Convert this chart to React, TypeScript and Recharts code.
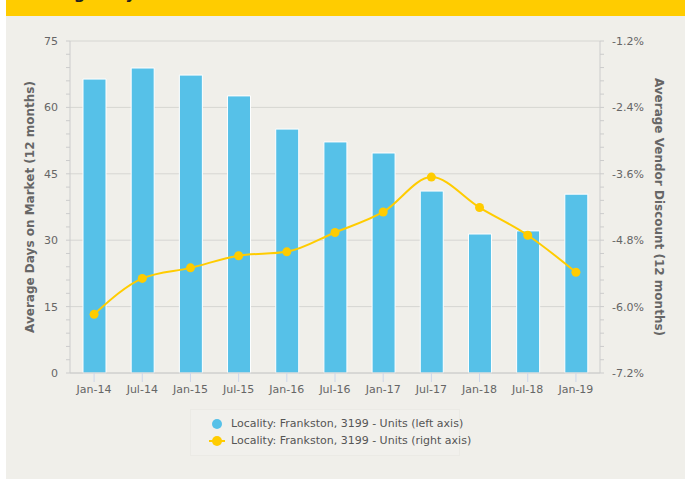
import React from "react";
import {
  ComposedChart,
  Bar,
  Line,
  XAxis,
  YAxis,
  CartesianGrid,
  Label,
} from "recharts";

const months = [
  "Jan-14",
  "Jul-14",
  "Jan-15",
  "Jul-15",
  "Jan-16",
  "Jul-16",
  "Jan-17",
  "Jul-17",
  "Jan-18",
  "Jul-18",
  "Jan-19",
];
const daysOnMarket = [66.4, 68.9, 67.3, 62.6, 55.1, 52.2, 49.7, 41.1, 31.4, 32.1, 40.4];
const vendorDiscount = [-6.14, -5.49, -5.3, -5.08, -5.01, -4.66, -4.29, -3.66, -4.21, -4.71, -5.38];

const leftTicks = [0, 15, 30, 45, 60, 75];
const rightTicks = [-7.2, -6.0, -4.8, -3.6, -2.4, -1.2];

const legendLabels = [
  "Locality: Frankston, 3199 - Units (left axis)",
  "Locality: Frankston, 3199 - Units (right axis)",
];

const BLUE = "#56c1e8";
const YELLOW = "#ffcc00";
const FONT = "'DejaVu Sans', sans-serif";

// split each major interval into 5 for the minor tick marks
function withMinor(majors: number[]) {
  const out: number[] = [];
  for (let i = 0; i < majors.length - 1; i++) {
    const step = (majors[i + 1] - majors[i]) / 5;
    for (let k = 0; k < 5; k++) out.push(+(majors[i] + step * k).toFixed(4));
  }
  out.push(majors[majors.length - 1]);
  return out;
}

const isMajor = (v: number, majors: number[]) =>
  majors.some((m) => Math.abs(m - v) < 1e-6);

const rows = months.map((m, i) => ({
  month: m,
  days: daysOnMarket[i],
  discount: vendorDiscount[i],
}));

function YTick(props: any) {
  const { x, y, payload, textAnchor, majors, fmt } = props;
  if (!isMajor(payload.value, majors)) return null;
  return (
    <text
      x={x}
      y={y}
      dy="0.355em"
      textAnchor={textAnchor}
      fontSize={11}
      fontFamily={FONT}
      fill="#666"
    >
      {fmt(payload.value)}
    </text>
  );
}

function AxisTitle({ viewBox, text, side }: any) {
  const cy = viewBox.y + viewBox.height / 2;
  const cx = side === "left" ? viewBox.x + 24 : viewBox.x + viewBox.width - 26;
  const angle = side === "left" ? -90 : 90;
  return (
    <text
      x={cx}
      y={cy}
      textAnchor="middle"
      dominantBaseline="central"
      transform={`rotate(${angle} ${cx} ${cy})`}
      fontSize={12}
      fontWeight="bold"
      fontFamily={FONT}
      fill="#666"
    >
      {text}
    </text>
  );
}

export default function App() {
  return (
    <div
      style={{
        position: "absolute",
        left: 0,
        top: 0,
        width: 685,
        height: 479,
        background: "#fff",
        overflow: "hidden",
        fontFamily: FONT,
      }}
    >
      <div
        style={{
          position: "absolute",
          left: 6,
          top: 0,
          width: 679,
          height: 479,
          background: "#f0efea",
        }}
      />
      <div
        style={{
          position: "absolute",
          left: 6,
          top: 0,
          width: 679,
          height: 16,
          background: YELLOW,
          overflow: "hidden",
        }}
      >
        <div
          style={{
            position: "absolute",
            left: 16,
            top: -14,
            fontSize: 16,
            lineHeight: "16px",
            fontWeight: "bold",
            color: "#222",
            whiteSpace: "nowrap",
          }}
        >
          Average Days on Market vs Vendor Discount
        </div>
      </div>

      <div style={{ position: "absolute", left: 6, top: 16 }}>
        <ComposedChart
          width={679}
          height={463}
          data={rows}
          margin={{ top: 25, right: 0, left: 0, bottom: 76 }}
        >
          <CartesianGrid
            yAxisId="left"
            vertical={false}
            horizontalValues={leftTicks}
            stroke="#d6d6d2"
          />
          <XAxis
            dataKey="month"
            height={30}
            tickSize={9}
            tickMargin={3}
            tickLine={{ stroke: "#ccd6eb" }}
            axisLine={{ stroke: "#ccc" }}
            tick={{ fontSize: 11, fontFamily: FONT, fill: "#666" }}
            interval={0}
          />
          <YAxis
            yAxisId="left"
            width={64}
            domain={[0, 75]}
            ticks={withMinor(leftTicks)}
            interval={0}
            tickSize={4}
            tickMargin={8}
            tickLine={{ stroke: "#ccc" }}
            axisLine={{ stroke: "#ccc" }}
            tick={<YTick majors={leftTicks} fmt={(v: number) => String(v)} />}
          >
            <Label
              content={(p: any) => (
                <AxisTitle {...p} side="left" text="Average Days on Market (12 months)" />
              )}
            />
          </YAxis>
          <YAxis
            yAxisId="right"
            orientation="right"
            width={85}
            domain={[-7.2, -1.2]}
            ticks={withMinor(rightTicks)}
            interval={0}
            tickSize={4}
            tickMargin={8}
            tickLine={{ stroke: "#ccc" }}
            axisLine={{ stroke: "#ccc" }}
            allowDataOverflow
            tick={
              <YTick majors={rightTicks} fmt={(v: number) => v.toFixed(1) + "%"} />
            }
          >
            <Label
              content={(p: any) => (
                <AxisTitle
                  {...p}
                  side="right"
                  text="Average Vendor Discount (12 months)"
                />
              )}
            />
          </YAxis>
          <Bar
            yAxisId="left"
            dataKey="days"
            fill={BLUE}
            stroke="#fff"
            strokeWidth={1}
            barSize={23}
            isAnimationActive={false}
          />
          <Line
            yAxisId="right"
            type="monotone"
            dataKey="discount"
            stroke={YELLOW}
            strokeWidth={2}
            dot={{ r: 4.5, fill: YELLOW, stroke: YELLOW, strokeWidth: 0 }}
            activeDot={false}
            isAnimationActive={false}
          />
        </ComposedChart>
      </div>

      <div
        style={{
          position: "absolute",
          left: 190,
          top: 409,
          width: 270,
          height: 47,
          border: "1px solid #ebeae5",
          boxSizing: "border-box",
          background: "#f1f0ec",
        }}
      />
      {legendLabels.map((label, i) => (
        <div
          key={label}
          style={{
            position: "absolute",
            left: 209,
            top: 415 + i * 17,
            height: 17,
            display: "flex",
            alignItems: "center",
            fontSize: 11,
            color: "#555",
            whiteSpace: "nowrap",
          }}
        >
          <svg width={17} height={12} style={{ marginRight: 5 }}>
            {i === 1 && (
              <line x1={0} y1={6} x2={16} y2={6} stroke={YELLOW} strokeWidth={2} />
            )}
            <circle cx={8} cy={6} r={5} fill={i === 0 ? BLUE : YELLOW} />
          </svg>
          {label}
        </div>
      ))}
    </div>
  );
}
